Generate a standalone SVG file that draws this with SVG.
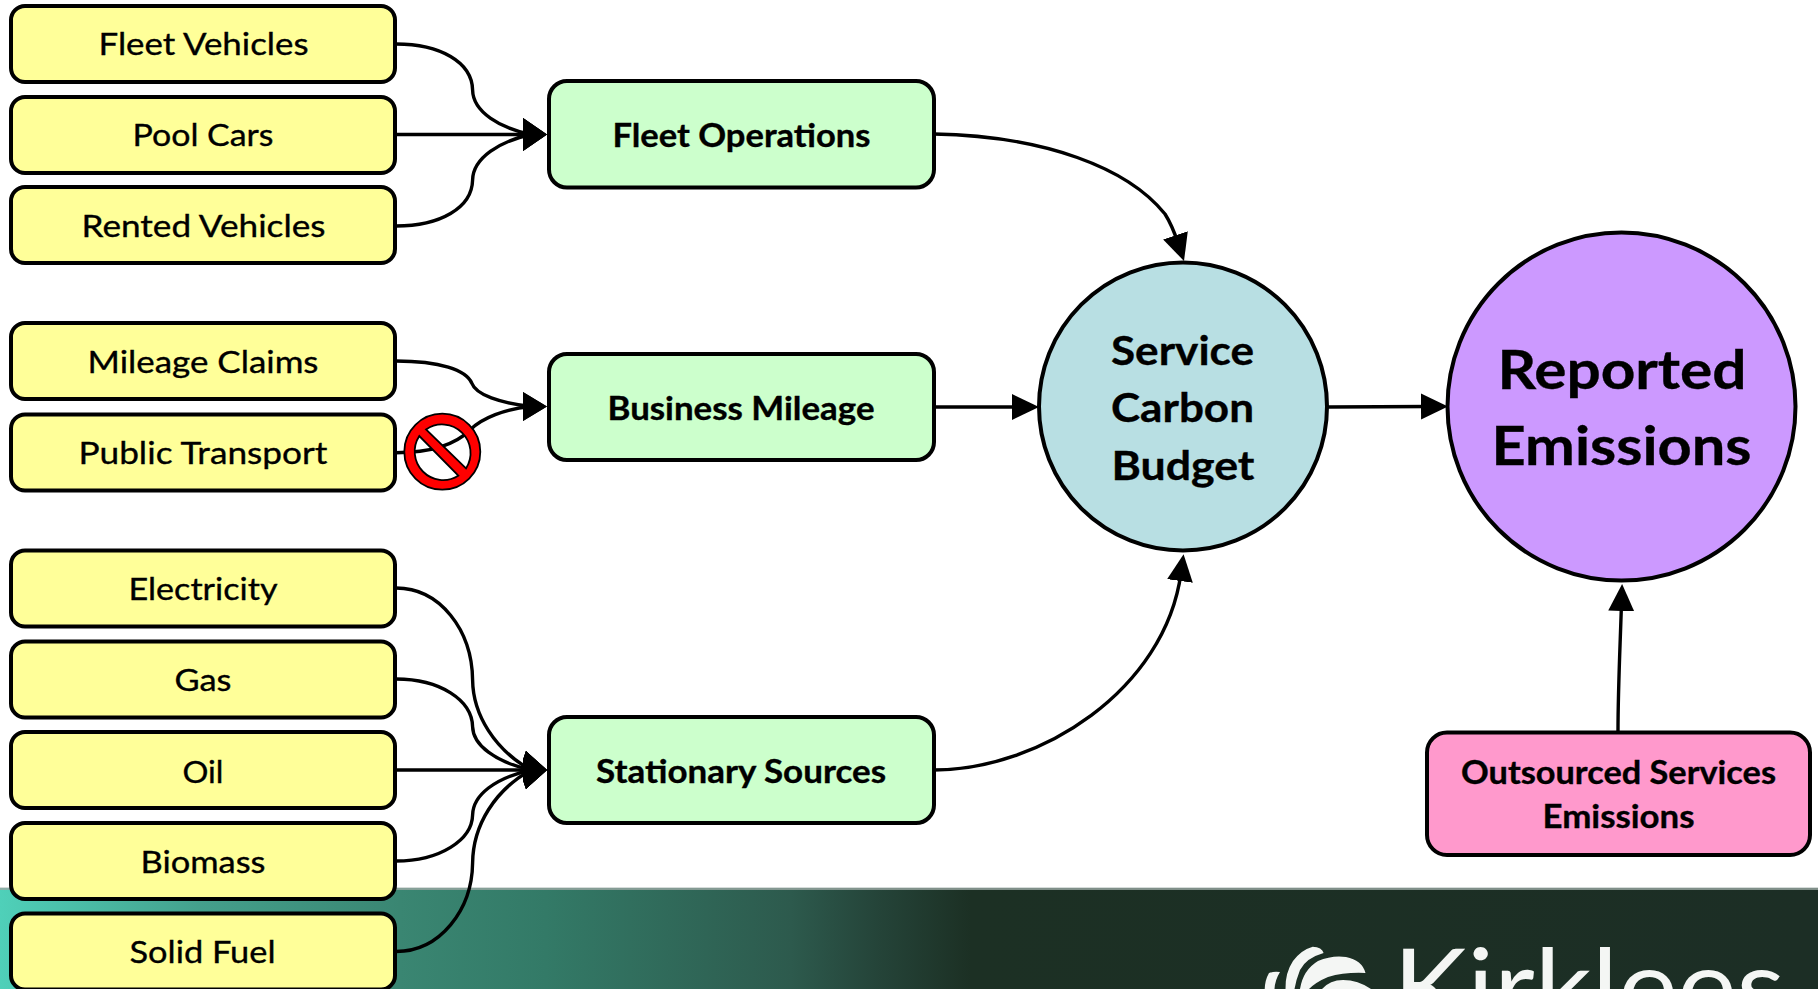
<svg xmlns="http://www.w3.org/2000/svg" width="1818" height="989" viewBox="0 0 1818 989">
<style>
.n{stroke:#000;stroke-width:4}
.y{fill:#ffff99}.g{fill:#ccffcc}.b{fill:#b8dfe3}.p{fill:#cc99ff}.k{fill:#ff99cc}
text{font-family:Lato,"Liberation Sans",sans-serif;fill:#000;stroke:#000;stroke-width:.35px}
.t{font-size:31.500px}
.tb{font-size:32px;font-weight:700}
.s{font-size:41px;font-weight:700}
.r{font-size:54px;font-weight:700}
.c{fill:none;stroke:#000;stroke-width:3.400}
.a{marker-end:url(#h)}
.a1{marker-end:url(#h1)}
.a3{marker-end:url(#h3)}
.a2{marker-end:url(#h2)}
.logo{fill:#f4f6f4}
</style>
<defs>
<marker id="h" markerUnits="userSpaceOnUse" markerWidth="24" markerHeight="34" refX="8" refY="17" orient="0"><path d="M0,0.500L24,17L0,33.500Z" fill="#000"/></marker>
<marker id="h1" markerUnits="userSpaceOnUse" markerWidth="24" markerHeight="30" refX="8" refY="15" orient="0"><path d="M0,0.500L24,15L0,29.500Z" fill="#000"/></marker>
<marker id="h3" markerUnits="userSpaceOnUse" markerWidth="24" markerHeight="40" refX="8" refY="20" orient="0"><path d="M3,1L5,3L24,20L5,37L3,39L0,30V10Z" fill="#000"/></marker>
<marker id="h2" markerUnits="userSpaceOnUse" markerWidth="27" markerHeight="27" refX="8" refY="13.500" orient="auto"><path d="M0,0.500L27,13.500L0,26.500Z" fill="#000"/></marker>
<linearGradient id="band" x1="0" x2="1818" y1="0" y2="0" gradientUnits="userSpaceOnUse">
<stop offset="0" stop-color="#4fd0b9"/><stop offset="0.11" stop-color="#44a08c"/><stop offset="0.22" stop-color="#3a8672"/><stop offset="0.3" stop-color="#337a67"/><stop offset="0.435" stop-color="#2d5a4d"/><stop offset="0.48" stop-color="#25453a"/><stop offset="0.534" stop-color="#1c3024"/><stop offset="1" stop-color="#1c2e25"/>
</linearGradient>
</defs>
<rect width="1818" height="989" fill="#fff"/>
<g id="footer">
<rect x="0" y="888" width="1818" height="101" fill="url(#band)"/>
<rect x="0" y="887.500" width="1818" height="2.500" fill="#9aa8a2" opacity="0.8"/>
<path class="logo" d="M1312.700,946.700Q1322,947 1323.600,953Q1306,958 1300,970Q1296,980 1294.500,989H1285.500Q1285,973 1293,961Q1301,950 1312.700,946.700Z"/>
<path class="logo" d="M1269,973Q1274,971 1280,972Q1275,980 1274.500,989H1264.700Q1265,980 1269,973Z"/>
<path class="logo" d="M1300,989Q1303,970 1318,961Q1332,955 1346,957Q1362,960 1365.500,973Q1345,972 1328,977Q1316,982 1309,989Z"/>
<path class="logo" d="M1322,989Q1330,980 1343,980Q1358,980 1371,989Z"/>
<text x="1393" y="1024" font-size="105" textLength="392" lengthAdjust="spacingAndGlyphs" style="fill:#f4f6f4;stroke:none">Kirklees</text>
</g>
<g id="connectors">
<path class="c a" d="M396,44C440,44 472,62 472.600,90C473,112 500,128 531,134.500"/>
<path class="c a" d="M396,134.500L531,134.500"/>
<path class="c a" d="M396,226C440,226 472,208 472.600,180C473,158 500,141 531,134.500"/>
<path class="c a1" d="M396,361C440,361 466,370 471.700,383C476,395 500,403 531,406.500"/>
<path class="c a1" d="M396,452.700C430,452.700 455,445 470,430C482,418 505,409 531,406.500"/>
<path class="c a3" d="M396,588C440,588 472,630 472.600,680C473,715 495,750 531,770"/>
<path class="c a3" d="M396,679C440,679 472,700 472.600,726.700C473,745 495,762 531,770"/>
<path class="c a3" d="M396,770L531,770"/>
<path class="c a3" d="M396,861C440,861 472,840 472.600,815C473,795 495,778 531,770"/>
<path class="c a3" d="M396,951.500C440,951.500 472,910 472.600,863C473,825 495,790 531,770"/>
<path class="c a2" d="M934,134C1045,136 1128,168 1165,214Q1172,225 1178,243"/>
<path class="c a2" d="M934,407L1020,407"/>
<path class="c a2" d="M934,770C1040,770 1165,690 1181,573"/>
<path class="c a2" d="M1328,407L1429,406.500"/>
<path class="c a2" d="M1618,731C1618,690 1620,650 1621.500,603"/>
</g>
<g id="fleet-vehicles"><rect class="n y" x="11" y="6" width="384" height="76" rx="14"/><text class="t" x="98.500" y="55" textLength="210" lengthAdjust="spacingAndGlyphs">Fleet Vehicles</text></g>
<g id="pool-cars"><rect class="n y" x="11" y="97" width="384" height="76" rx="14"/><text class="t" x="132.500" y="146" textLength="141" lengthAdjust="spacingAndGlyphs">Pool Cars</text></g>
<g id="rented-vehicles"><rect class="n y" x="11" y="187" width="384" height="76" rx="14"/><text class="t" x="81.500" y="237" textLength="244" lengthAdjust="spacingAndGlyphs">Rented Vehicles</text></g>
<g id="mileage-claims"><rect class="n y" x="11" y="323" width="384" height="76" rx="14"/><text class="t" x="87.500" y="373" textLength="231" lengthAdjust="spacingAndGlyphs">Mileage Claims</text></g>
<g id="public-transport"><rect class="n y" x="11" y="414.500" width="384" height="76" rx="14"/><text class="t" x="78.500" y="464" textLength="249" lengthAdjust="spacingAndGlyphs">Public Transport</text></g>
<g id="electricity"><rect class="n y" x="11" y="550.500" width="384" height="76" rx="14"/><text class="t" x="128.500" y="600" textLength="149" lengthAdjust="spacingAndGlyphs">Electricity</text></g>
<g id="gas"><rect class="n y" x="11" y="641.500" width="384" height="76" rx="14"/><text class="t" x="174.500" y="691" textLength="57" lengthAdjust="spacingAndGlyphs">Gas</text></g>
<g id="oil"><rect class="n y" x="11" y="732" width="384" height="76" rx="14"/><text class="t" x="182.500" y="783" textLength="41" lengthAdjust="spacingAndGlyphs">Oil</text></g>
<g id="biomass"><rect class="n y" x="11" y="823" width="384" height="76" rx="14"/><text class="t" x="140.500" y="873" textLength="125" lengthAdjust="spacingAndGlyphs">Biomass</text></g>
<g id="solid-fuel"><rect class="n y" x="11" y="913.500" width="384" height="76" rx="14"/><text class="t" x="129.500" y="963" textLength="146" lengthAdjust="spacingAndGlyphs">Solid Fuel</text></g>
<g id="fleet-operations"><rect class="n g" x="549" y="81" width="385" height="106.500" rx="18"/><text class="tb" x="612.500" y="146.500" textLength="258" lengthAdjust="spacingAndGlyphs">Fleet Operations</text></g>
<g id="business-mileage"><rect class="n g" x="549" y="354" width="385" height="106" rx="18"/><text class="tb" x="607.500" y="420" textLength="267" lengthAdjust="spacingAndGlyphs">Business Mileage</text></g>
<g id="stationary-sources"><rect class="n g" x="549" y="717" width="385" height="106" rx="18"/><text class="tb" x="596" y="783" textLength="290" lengthAdjust="spacingAndGlyphs">Stationary Sources</text></g>
<g id="service-carbon-budget"><circle class="n b" cx="1183" cy="406.500" r="144"/>
<text class="s" x="1111" y="365" textLength="143" lengthAdjust="spacingAndGlyphs">Service</text>
<text class="s" x="1111" y="422" textLength="143" lengthAdjust="spacingAndGlyphs">Carbon</text>
<text class="s" x="1111.500" y="480" textLength="143" lengthAdjust="spacingAndGlyphs">Budget</text></g>
<g id="reported-emissions"><circle class="n p" cx="1621.500" cy="406.500" r="174"/>
<text class="r" x="1497.500" y="389" textLength="249" lengthAdjust="spacingAndGlyphs">Reported</text>
<text class="r" x="1491.500" y="465" textLength="260" lengthAdjust="spacingAndGlyphs">Emissions</text></g>
<g id="outsourced-services-emissions"><rect class="n k" x="1427" y="732.500" width="383" height="122.500" rx="20"/>
<text class="tb" x="1461" y="783.500" textLength="315" lengthAdjust="spacingAndGlyphs">Outsourced Services</text>
<text class="tb" x="1542.500" y="828" textLength="152" lengthAdjust="spacingAndGlyphs">Emissions</text></g>
<g id="no-symbol"><path fill="#ff0000" fill-rule="evenodd" stroke="#000" stroke-width="1.800" d="M404.300,451.700a38,38 0 1,0 76,0a38,38 0 1,0 -76,0ZM426,429.400A28.500,28.500 0 0 1 466,468.400ZM419.300,436A28.500,28.500 0 0 0 458.300,475.700Z"/></g>
</svg>
